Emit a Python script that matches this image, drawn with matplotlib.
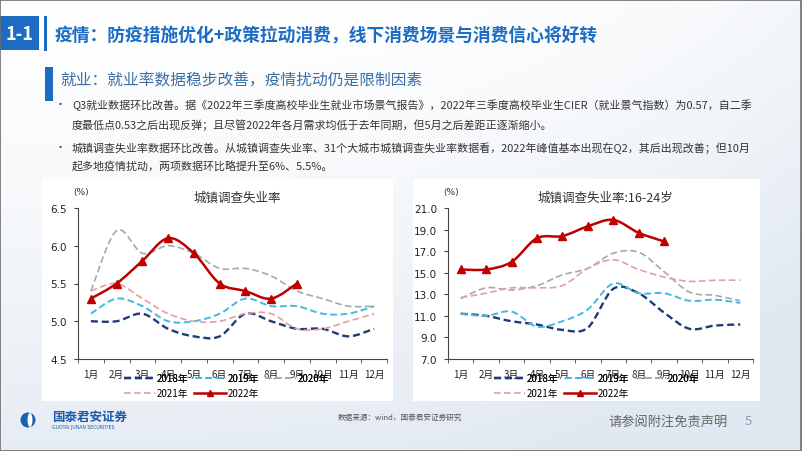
import numpy as np
import matplotlib
matplotlib.use("Agg")
import matplotlib.pyplot as plt
from matplotlib.path import Path
from matplotlib.patches import PathPatch, Rectangle, Ellipse
from matplotlib.lines import Line2D

plt.rcParams['font.family'] = ['Noto Sans CJK SC', 'DejaVu Sans']

# ---- data ----
months = ['1月', '2月', '3月', '4月', '5月', '6月', '7月', '8月', '9月', '10月', '11月', '12月']
years = ['2018年', '2019年', '2020年', '2021年', '2022年']

urban_2018 = [5.0, 5.0, 5.1, 4.9, 4.8, 4.8, 5.1, 5.0, 4.9, 4.9, 4.8, 4.9]
urban_2019 = [5.1, 5.3, 5.2, 5.0, 5.0, 5.1, 5.3, 5.2, 5.2, 5.1, 5.1, 5.2]
urban_2020 = [5.4, 6.2, 5.9, 6.0, 5.9, 5.7, 5.7, 5.6, 5.4, 5.3, 5.2, 5.2]
urban_2021 = [5.4, 5.5, 5.3, 5.1, 5.0, 5.0, 5.1, 5.1, 4.9, 4.9, 5.0, 5.1]
urban_2022 = [5.3, 5.5, 5.8, 6.1, 5.9, 5.5, 5.4, 5.3, 5.5]

youth_2018 = [11.2, 11.0, 10.5, 10.2, 9.7, 9.9, 13.5, 13.1, 11.3, 9.8, 10.1, 10.2]
youth_2019 = [11.2, 11.0, 11.4, 10.0, 10.5, 11.6, 14.0, 13.1, 13.1, 12.4, 12.5, 12.2]
youth_2020 = [12.6, 13.6, 13.4, 13.8, 14.8, 15.4, 16.8, 16.9, 15.1, 13.2, 12.9, 12.4]
youth_2021 = [12.7, 13.1, 13.6, 13.6, 13.8, 15.4, 16.2, 15.3, 14.6, 14.2, 14.3, 14.3]
youth_2022 = [15.3, 15.3, 16.0, 18.2, 18.4, 19.3, 19.9, 18.7, 17.9]

W, H = 802, 452
fig = plt.figure(figsize=(W / 100, H / 100), dpi=100)


def fx(x):
    return x / W


def fy(y):
    return 1 - y / H


# ---- slide background ----
bg = fig.add_axes([0, 0, 1, 1], zorder=-10)
gx, gy = np.meshgrid(np.linspace(0, 1, 200), np.linspace(0, 1, 120))
t = np.clip(0.8 * (1 - gy) ** 1.3 + 0.6 * gx ** 3 * (1 - 0.4 * gy), 0, 1) * 0.6
light = np.array([1.0, 1.0, 1.0])
blue = np.array([0.80, 0.85, 0.91])
img = light[None, None, :] * (1 - t[..., None]) + blue[None, None, :] * t[..., None]
bg.imshow(img, extent=[0, 1, 0, 1], aspect='auto', origin='lower')
bg.set_xlim(0, 1)
bg.set_ylim(0, 1)
bg.axis('off')

# white panels behind the charts
for x0, x1 in [(42, 393), (413, 760)]:
    fig.patches.append(Rectangle((fx(x0), fy(402)), fx(x1 - x0), (402 - 180) / H,
                                 transform=fig.transFigure, facecolor='white',
                                 edgecolor='none', zorder=-5))

# ---- header ----
hblue = '#1c6cc4'
fig.patches.append(Rectangle((0, fy(51)), fx(39), 34 / H, transform=fig.transFigure,
                             facecolor=hblue, edgecolor='none'))
fig.text(fx(19), fy(34), '1-1', color='white', fontsize=13, fontweight='bold',
         ha='center', va='center')
fig.patches.append(Rectangle((fx(44), fy(52)), fx(3), 35 / H, transform=fig.transFigure,
                             facecolor=hblue, edgecolor='none'))
fig.text(fx(55), fy(36), '疫情：防疫措施优化+政策拉动消费，线下消费场景与消费信心将好转',
         color=hblue, fontsize=12.8, fontweight='bold', va='center')

fig.patches.append(Rectangle((fx(45), fy(102)), fx(8), 34 / H, transform=fig.transFigure,
                             facecolor=hblue, edgecolor='none'))
fig.text(fx(60), fy(81), '就业：就业率数据稳步改善，疫情扰动仍是限制因素',
         color='#3a6fa6', fontsize=11.3, va='center')

body = [
    (105, '•', 'Q3就业数据环比改善。据《2022年三季度高校毕业生就业市场景气报告》，2022年三季度高校毕业生CIER（就业景气指数）为0.57，自二季'),
    (125, '', '度最低点0.53之后出现反弹；且尽管2022年各月需求均低于去年同期，但5月之后差距正逐渐缩小。'),
    (148, '•', '城镇调查失业率数据环比改善。从城镇调查失业率、31个大城市城镇调查失业率数据看，2022年峰值基本出现在Q2，其后出现改善；但10月'),
    (167, '', '起多地疫情扰动，两项数据环比略提升至6%、5.5%。'),
]
for yy, bullet, line in body:
    if bullet:
        fig.text(fx(60), fy(yy), bullet, color='#404040', fontsize=8, va='center', ha='center')
    fig.text(fx(72), fy(yy), line, color='#333333', fontsize=7.9, va='center')

# ---- charts ----
styles = [
    dict(color='#1f3b7a', lw=1.7, ls=(0, (3, 1.6))),
    dict(color='#43b8e0', lw=1.4, ls=(0, (3.5, 1.8))),
    dict(color='#a8a8a8', lw=1.2, ls=(0, (4, 2))),
    dict(color='#e0a0a0', lw=1.2, ls=(0, (4, 2))),
    dict(color='#c00000', lw=1.8, ls='-'),
]


def smooth_path(ys):
    pts = np.column_stack([np.arange(len(ys)), np.asarray(ys, float)])
    n = len(pts)
    verts = [pts[0]]
    codes = [Path.MOVETO]
    for i in range(n - 1):
        p0 = pts[i - 1] if i > 0 else pts[i]
        p1, p2 = pts[i], pts[i + 1]
        p3 = pts[i + 2] if i + 2 < n else pts[i + 1]
        verts += [p1 + (p2 - p0) / 6, p2 - (p3 - p1) / 6, p2]
        codes += [Path.CURVE4] * 3
    return Path(verts, codes)


def draw_chart(rect, series, ylim, yticks, fmt, title):
    l, r, top, bot = rect
    ax = fig.add_axes([fx(l), fy(bot), fx(r - l), (bot - top) / H])
    ax.set_facecolor('none')
    for vals, st in zip(series, styles):
        ax.add_patch(PathPatch(smooth_path(vals), fill=False, edgecolor=st['color'],
                               lw=st['lw'], linestyle=st['ls'], zorder=3))
    ax.plot(range(len(series[4])), series[4], ls='none', marker='^', ms=5.5,
            color=styles[4]['color'], zorder=4)
    ax.set_xlim(-0.5, 11.5)
    ax.set_ylim(*ylim)
    ax.set_yticks(yticks)
    ax.set_yticklabels([fmt.format(v) for v in yticks], fontsize=7.5,
                       family='DejaVu Sans', color='#222222')
    ax.set_xticks(range(12))
    ax.set_xticklabels(months, fontsize=7, color='#222222')
    ax.set_xticks(np.arange(-0.5, 12, 1), minor=True)
    ax.tick_params(axis='x', which='major', length=0, pad=7)
    ax.tick_params(axis='x', which='minor', length=3, color='#444444')
    ax.tick_params(axis='y', length=3, color='#444444', pad=5)
    for s in ['top', 'right']:
        ax.spines[s].set_visible(False)
    for s in ['left', 'bottom']:
        ax.spines[s].set_color('#444444')
        ax.spines[s].set_linewidth(0.8)
    cx = (l + r) / 2 + 5
    fig.text(fx(cx), fy(198), title, fontsize=9, ha='center', va='center', color='#333333')
    fig.text(fx(l + 3), fy(192), '(%)', fontsize=6.5, ha='center', va='center',
             family='DejaVu Sans', color='#333333')

    handles = []
    for st in styles:
        if st['ls'] == '-':
            handles.append(Line2D([], [], color=st['color'], lw=st['lw'], marker='^', ms=4.5))
        else:
            handles.append(Line2D([], [], color=st['color'], lw=st['lw'], ls=st['ls']))
    x0 = fx(l + 46)
    leg1 = fig.legend(handles[:3], years[:3], loc='center left', bbox_to_anchor=(x0, fy(379)),
                      ncol=3, frameon=False, fontsize=7, handlelength=3.2, handletextpad=0.2,
                      columnspacing=0.6, borderpad=0, borderaxespad=0)
    fig.add_artist(leg1)
    fig.legend(handles[3:], years[3:], loc='center left', bbox_to_anchor=(x0, fy(394)),
               ncol=2, frameon=False, fontsize=7, handlelength=3.2, handletextpad=0.2,
               columnspacing=0.6, borderpad=0, borderaxespad=0)
    return ax


draw_chart((78, 387, 209, 360),
           [urban_2018, urban_2019, urban_2020, urban_2021, urban_2022],
           (4.5, 6.5), [4.5, 5.0, 5.5, 6.0, 6.5], '{:.1f}', '城镇调查失业率')
draw_chart((448, 753, 209, 360),
           [youth_2018, youth_2019, youth_2020, youth_2021, youth_2022],
           (7.0, 21.0), [7.0, 9.0, 11.0, 13.0, 15.0, 17.0, 19.0, 21.0], '{:.1f}',
           '城镇调查失业率:16-24岁')

# ---- footer ----
fig.patches.append(Ellipse((fx(28), fy(421)), fx(15), 15 / H, transform=fig.transFigure,
                           facecolor='#1a5fb4', edgecolor='none'))
fig.patches.append(Ellipse((fx(30), fy(421)), fx(5), 14 / H, transform=fig.transFigure,
                           facecolor='white', edgecolor='none'))
fig.text(fx(52), fy(417), '国泰君安证券', fontsize=9, fontweight='bold', color='#1f5aa6',
         va='center')
fig.text(fx(52), fy(428), 'GUOTAI JUNAN SECURITIES', fontsize=3.3, color='#1f5aa6',
         va='center', family='DejaVu Sans')
fig.text(fx(338), fy(418), '数据来源：wind，国泰君安证券研究', fontsize=5.5, color='#555555',
         va='center')
fig.text(fx(608), fy(422), '请参阅附注免责声明', fontsize=9.5, color='#666666', va='center')
fig.text(fx(748), fy(422), '5', fontsize=9.5, color='#8aa0b8', va='center', ha='center')

# slide border
fig.patches.append(Rectangle((0.0005, 0.001), 0.998, 0.997, transform=fig.transFigure,
                             facecolor='none', edgecolor='#6e6e6e', lw=1.2))

fig.savefig('out.png', dpi=100)
